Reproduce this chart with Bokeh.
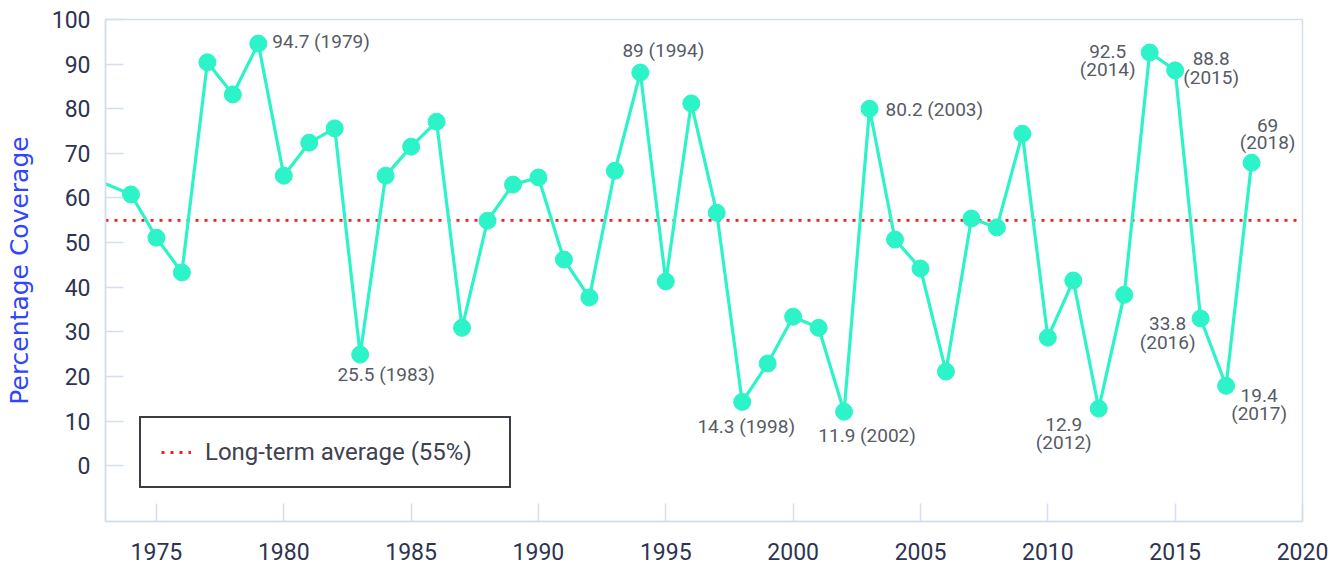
from bokeh.plotting import figure
from bokeh.models import Range1d, ColumnDataSource, FixedTicker, Legend, LegendItem
from bokeh.core.properties import value
from bokeh.embed import file_html
from bokeh.resources import INLINE

# ---- data ----
years = list(range(1973, 2019))
coverage = [63.2, 60.8, 51.1, 43.3, 90.4, 83.2, 94.6, 65.0, 72.4, 75.6,
            24.9, 65.0, 71.5, 77.1, 30.9, 54.9, 63.0, 64.6, 46.2, 37.7,
            66.1, 88.1, 41.3, 81.2, 56.7, 14.3, 22.9, 33.4, 30.9, 12.1,
            80.0, 50.7, 44.2, 21.1, 55.4, 53.4, 74.4, 28.7, 41.5, 12.8,
            38.3, 92.6, 88.6, 33.0, 17.9, 67.9]
average = 55
legend_text = "Long-term average (55%)"
y_label = "Percentage Coverage"
x_ticks = [1975, 1980, 1985, 1990, 1995, 2000, 2005, 2010, 2015, 2020]
y_ticks = [0, 10, 20, 30, 40, 50, 60, 70, 80, 90, 100]

ann_text = ["94.7 (1979)", "25.5 (1983)", "89 (1994)", "14.3 (1998)", "11.9 (2002)",
            "80.2 (2003)", "12.9", "(2012)", "92.5", "(2014)", "88.8", "(2015)",
            "33.8", "(2016)", "19.4", "(2017)", "69", "(2018)"]
ann_year = [1979, 1983, 1994, 1998, 2002, 2003, 2012, 2012, 2014, 2014,
            2015, 2015, 2016, 2016, 2017, 2017, 2018, 2018]

# ---- styles / label placement (pixels) ----
ann_dx = [14, 26, 23, 4, 23, 16, -35, -35, -42, -42, 36, 36, -33, -33, 33, 33, 16, 16]
ann_dy = [-2, 20, -22, 25, 24, 1, 16, 34, -1, 17, -12, 7, 5, 24, 10, 28, -37, -20]
ann_align = ["left", "center", "center", "center", "center", "left"] + ["center"] * 12

LINE = "#2cf3c8"
FRAME = "#d3dfee"
TICKTXT = "#2d3452"
AVG = "#ff1a1a"

x_start, x_end = 1973, 2020
y_start, y_end = -12.5, 100

p = figure(width=1344, height=569, output_backend="svg", toolbar_location=None,
           x_range=Range1d(x_start, x_end), y_range=Range1d(y_start, y_end),
           min_border_left=105, min_border_right=42, min_border_top=19, min_border_bottom=48)

p.background_fill_color = "white"
p.border_fill_color = "white"
p.outline_line_color = FRAME
p.outline_line_width = 1.5
p.xgrid.visible = False
p.ygrid.visible = False

for ax in (p.xaxis[0], p.yaxis[0]):
    ax.axis_line_color = FRAME
    ax.axis_line_width = 1.5
    ax.major_tick_line_color = FRAME
    ax.major_tick_line_width = 1.5
    ax.major_tick_in = 18
    ax.major_tick_out = 0
    ax.minor_tick_line_color = None
    ax.major_label_text_font = "Roboto"
    ax.major_label_text_font_size = "23px"
    ax.major_label_text_color = TICKTXT

p.xaxis.ticker = FixedTicker(ticks=x_ticks)
p.yaxis.ticker = FixedTicker(ticks=y_ticks)
p.xaxis.major_label_standoff = 21
p.yaxis.major_label_standoff = 15
p.yaxis.axis_label = y_label
p.yaxis.axis_label_text_font = "DejaVu Sans"
p.yaxis.axis_label_text_font_size = "25px"
p.yaxis.axis_label_text_font_style = "normal"
p.yaxis.axis_label_text_color = "#2f45ff"
p.yaxis.axis_label_standoff = 15

# average line across the whole x range
avg_r = p.line(x=[x_start, x_end], y=[average, average], line_color=AVG,
               line_width=2.8, line_dash="3 6")

# main series
src = ColumnDataSource(dict(x=years, y=coverage))
p.line("x", "y", source=src, line_color=LINE, line_width=3.2)
msrc = ColumnDataSource(dict(x=years[1:], y=coverage[1:]))
p.scatter("x", "y", source=msrc, size=17, fill_color=LINE, line_color=LINE)

# annotations
lookup = dict(zip(years, coverage))
asrc = ColumnDataSource(dict(x=ann_year, y=[lookup[yy] for yy in ann_year], t=ann_text,
                             dx=ann_dx, dy=ann_dy, al=ann_align))
p.text(x="x", y="y", text="t", source=asrc, x_offset="dx", y_offset="dy",
       text_align="al", text_baseline="middle", text_font=value("Roboto"),
       text_font_size="19px", text_color="#565b66")

legend = Legend(items=[LegendItem(label=legend_text, renderers=[avg_r])],
                location=(34, 33), margin=0, padding=20, spacing=0,
                glyph_width=30, glyph_height=20, label_standoff=14, label_height=24,
                label_width=284,
                label_text_font="Roboto", label_text_font_size="24px",
                label_text_color="#3d4150", border_line_color="#3a3d44",
                border_line_alpha=1.0, border_line_width=2,
                background_fill_color="white", background_fill_alpha=1)
p.add_layout(legend)

open("out.html", "w").write(file_html(p, INLINE))
